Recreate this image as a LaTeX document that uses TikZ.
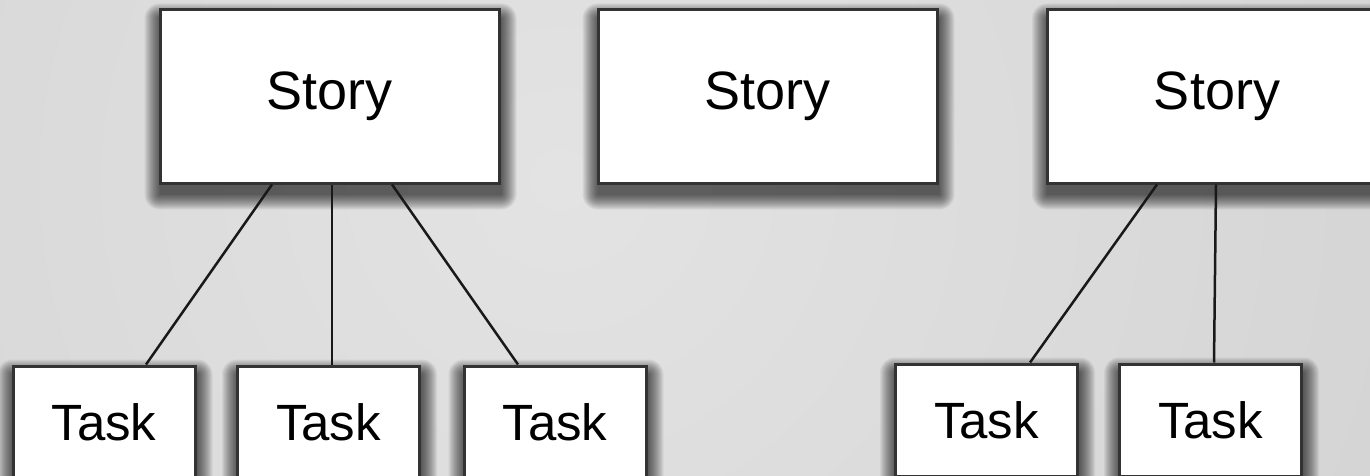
\documentclass[tikz,border=0pt]{standalone}
\usepackage{fontspec}
\setmainfont{Liberation Sans}
\definecolor{bginner}{HTML}{E3E3E3}
\definecolor{bgouter}{HTML}{C4C4C4}
\definecolor{edge}{HTML}{333333}
\pgfdeclarelayer{bg}
\pgfdeclarelayer{shadowlayer}
\pgfsetlayers{bg,shadowlayer,main}
\tikzset{
  storybox/.style={draw=edge, line width=3pt, fill=white, minimum width=339pt, minimum height=173pt,
    inner sep=0pt, font=\fontsize{54}{60}\selectfont},
  taskbox/.style={draw=edge, line width=3pt, fill=white, minimum width=182pt, minimum height=112pt,
    inner sep=0pt, font=\fontsize{51}{56}\selectfont},
  shadowpiece/.style={fill=black, fill opacity=0.05},
  link/.style={draw=black!90, line width=2.5pt}
}
\begin{document}
\begin{tikzpicture}[x=1pt,y=-1pt]
\useasboundingbox (0,0) rectangle (1370,476);
\clip (0,0) rectangle (1370,476);
\begin{pgfonlayer}{bg}
\shade[inner color=bginner, outer color=bgouter] (560,180) circle (1900pt);
\end{pgfonlayer}
\node[storybox] (s1) at (329.5,96.5) {Story};
\node[storybox] (s2) at (767.5,96.5) {Story};
\node[storybox] (s3) at (1217,96.5) {Story};
\node[taskbox] (t1) at (104,422) {Task};
\node[taskbox] (t2) at (328.5,422) {Task};
\node[taskbox] (t3) at (555,422) {Task};
\node[taskbox] (t4) at (986.5,420) {Task};
\node[taskbox] (t5) at (1210.5,420) {Task};
\begin{pgfonlayer}{shadowlayer}
\foreach \n in {s1,s2,s3,t1,t2,t3,t4,t5}{
  \foreach \r in {0,1,...,15}{
    \fill[shadowpiece, rounded corners=\r pt] ([shift={(1-\r,10-\r)}]\n.north west) rectangle ([shift={(1+\r,10+\r)}]\n.south east);
  }
}
\end{pgfonlayer}
\draw[link] ([xshift=-57.5pt]s1.south) -- ([xshift=42pt]t1.north);
\draw[link] ([xshift=2.5pt]s1.south) -- ([xshift=3.5pt]t2.north);
\draw[link] ([xshift=62.5pt]s1.south) -- ([xshift=-37pt]t3.north);
\draw[link] ([xshift=-60pt]s3.south) -- ([xshift=43.5pt]t4.north);
\draw[link] ([xshift=-1pt]s3.south) -- ([xshift=3.5pt]t5.north);
\end{tikzpicture}
\end{document}
